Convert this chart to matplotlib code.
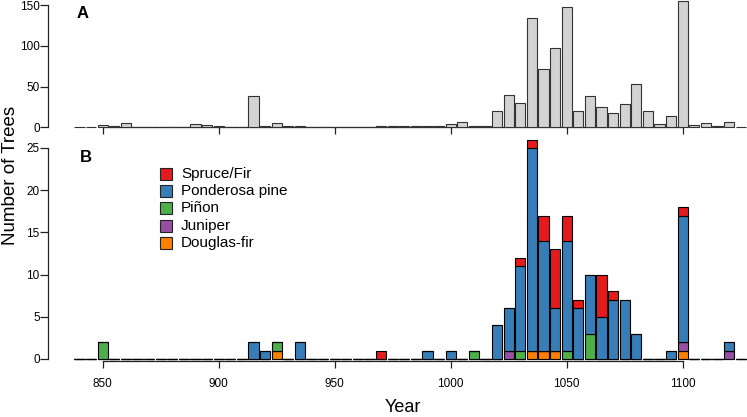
import numpy as np
import matplotlib
matplotlib.use('Agg')
import matplotlib.pyplot as plt
from matplotlib.patches import Rectangle

plt.rcParams['font.family'] = ['Liberation Sans', 'DejaVu Sans']

# ---- data ----
years = list(range(840, 1130, 5))
total_counts = [0, 0, 3, 2, 5, 0, 0, 0, 0, 0,
                4, 3, 1, 0, 0, 39, 2, 5, 1, 2,
                0, 0, 0, 0, 0, 0, 2, 1, 1, 2,
                2, 1, 4, 7, 1, 2, 20, 40, 30, 134,
                72, 98, 148, 20, 39, 25, 18, 29, 53, 20,
                4, 14, 155, 3, 5, 2, 7, 0]

douglas_fir = {925: 1, 1035: 1, 1040: 1, 1045: 1, 1100: 1}
juniper = {1025: 1, 1100: 1, 1120: 1}
pinon = {850: 2, 925: 1, 1010: 1, 1030: 1, 1050: 1, 1060: 3}
ponderosa = {915: 2, 920: 1, 935: 2, 990: 1, 1000: 1, 1020: 4, 1025: 5,
             1030: 10, 1035: 24, 1040: 13, 1045: 5, 1050: 13, 1055: 6,
             1060: 7, 1065: 5, 1070: 7, 1075: 7, 1080: 3, 1095: 1,
             1100: 15, 1120: 1}
spruce_fir = {970: 1, 1030: 1, 1035: 1, 1040: 3, 1045: 7, 1050: 3,
              1055: 1, 1065: 5, 1070: 1, 1100: 1}

species_names = ['Douglas-fir', 'Juniper', 'Piñon', 'Ponderosa pine', 'Spruce/Fir']
species_data = [douglas_fir, juniper, pinon, ponderosa, spruce_fir]
species_colors = ['#FF7F00', '#984EA3', '#4DAF4A', '#377EB8', '#E41A1C']
legend_order = ['Spruce/Fir', 'Ponderosa pine', 'Piñon', 'Juniper', 'Douglas-fir']

xticks = [850, 900, 950, 1000, 1050, 1100]

# ---- layout ----
W, H = 747, 417
fig = plt.figure(figsize=(W / 100, H / 100), dpi=100)

def frac(l, t, r, b):
    return [l / W, 1 - b / H, (r - l) / W, (b - t) / H]

axA = fig.add_axes(frac(48, 0, 747, 135))
axB = fig.add_axes(frac(48, 135, 747, 375))

bw = 4.4
x = np.array(years)

# Panel A
axA.bar(x, total_counts, width=bw, color='#D3D3D3', edgecolor='#333333',
        linewidth=0.8, clip_on=False, zorder=3)
axA.set_ylim(-9.47, 156.5)
axA.set_yticks([0, 50, 100, 150])

# Panel B
bottom = np.zeros(len(years))
for name, d, c in zip(species_names, species_data, species_colors):
    h = np.array([d.get(y, 0) for y in years], dtype=float)
    axB.bar(x, h, bottom=bottom, width=bw, color=c, edgecolor='black',
            linewidth=0.8, clip_on=False, zorder=3)
    bottom = bottom + h
axB.set_ylim(-1.896, 26.54)
axB.set_yticks([0, 5, 10, 15, 20, 25])

for ax, ytop, off in [(axA, 150, 0), (axB, 25, -0.25)]:
    ax.set_xlim(826.4, 1127.7)
    ax.patch.set_visible(False)
    for s in ['top', 'right']:
        ax.spines[s].set_visible(False)
    ax.spines['left'].set_bounds(0, ytop)
    ax.spines['bottom'].set_position(('data', off))
    ax.spines['bottom'].set_bounds(850, 1100)
    for s in ['left', 'bottom']:
        ax.spines[s].set_color('#222222')
        ax.spines[s].set_linewidth(0.9)
    ax.set_xticks(xticks)
    ax.tick_params(axis='x', direction='out', length=5, width=0.9,
                   color='#222222', labelsize=8.5, pad=7)
    ax.tick_params(axis='y', direction='out', length=5.5, width=0.9,
                   color='#222222', labelsize=8.5, pad=0.5)

axA.tick_params(axis='x', labelbottom=False)

fig.text(77 / W, 1 - 13 / H, 'A', fontsize=12, fontweight='bold',
         ha='left', va='center')
fig.text(80 / W, 1 - 157 / H, 'B', fontsize=12, fontweight='bold',
         ha='left', va='center')

fig.text(11 / W, 1 - 175 / H, 'Number of Trees', fontsize=13.5,
         rotation=90, ha='center', va='center')
fig.text(403 / W, 1 - 407 / H, 'Year', fontsize=13, ha='center', va='center')

# Legend
color_map = dict(zip(species_names, species_colors))
for i, name in enumerate(legend_order):
    yc = 174 + i * 17.2
    fig.patches.append(Rectangle(((160) / W, 1 - (yc + 6) / H), 12 / W, 12 / H,
                                 transform=fig.transFigure, facecolor=color_map[name],
                                 edgecolor='#222222', linewidth=0.8))
    fig.text(181 / W, 1 - yc / H, name, fontsize=11, ha='left', va='center')

fig.savefig('out.png', dpi=100)
